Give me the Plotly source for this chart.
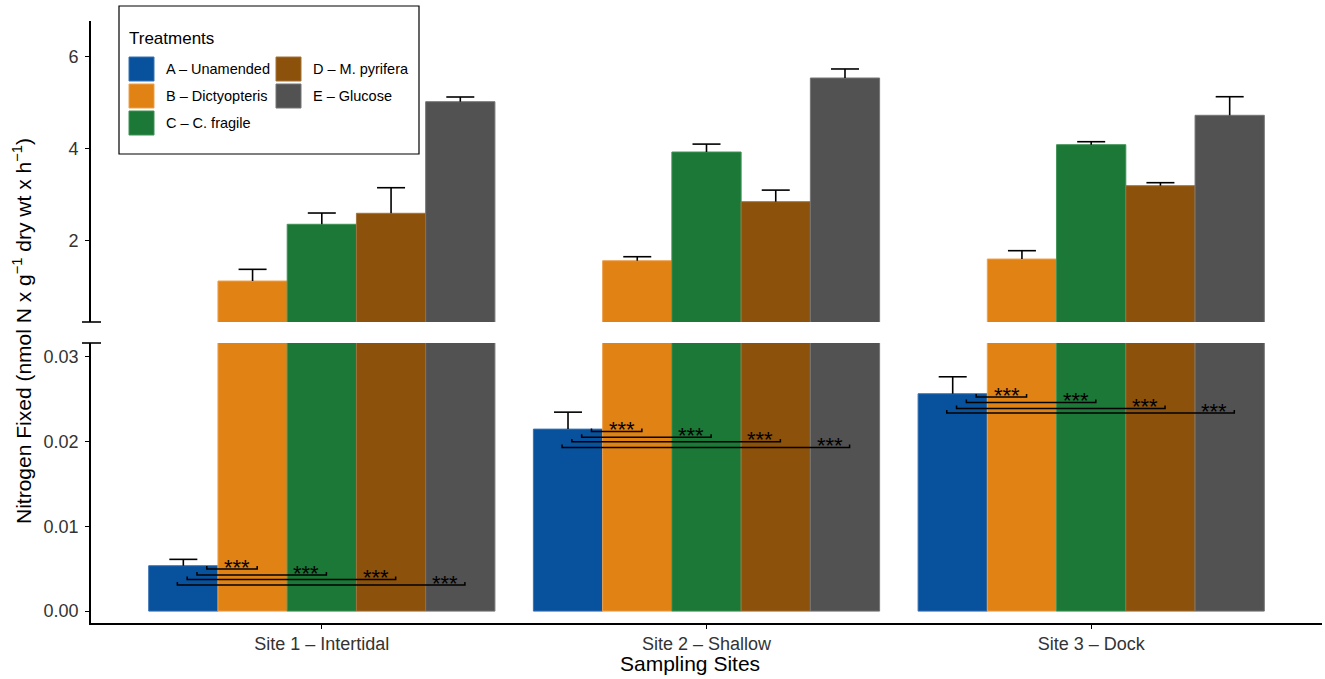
import plotly.graph_objects as go

# data
sites = ["Site 1 – Intertidal", "Site 2 – Shallow", "Site 3 – Dock"]
treatments = ["A – Unamended", "B – Dictyopteris", "C – C. fragile",
              "D – M. pyrifera", "E – Glucose"]
colors = ["#08519c", "#e08214", "#1b7837", "#8c510a", "#525252"]
edge_colors = ["#3a73b3", "#eda14f", "#3f9255", "#a2733a", "#757575"]

fixed_A = [0.00535, 0.02145, 0.02562]
fixed_B = [1.124, 1.565, 1.602]
fixed_C = [2.357, 3.928, 4.087]
fixed_D = [2.596, 2.848, 3.196]
fixed_E = [5.022, 5.537, 4.726]
se_A = [0.00075, 0.0020, 0.0020]
se_B = [0.254, 0.087, 0.181]
se_C = [0.245, 0.172, 0.065]
se_D = [0.556, 0.252, 0.065]
se_E = [0.102, 0.196, 0.404]

# significance bracket heights (A vs B, C, D, E) per site
sig_site1 = [0.00496, 0.00425, 0.00374, 0.00307]
sig_site2 = [0.02117, 0.02050, 0.01995, 0.01928]
sig_site3 = [0.02523, 0.02459, 0.02388, 0.02334]
sig_label = "***"

means = [fixed_A, fixed_B, fixed_C, fixed_D, fixed_E]
errs = [se_A, se_B, se_C, se_D, se_E]
sig_levels = [sig_site1, sig_site2, sig_site3]

site_x = list(range(len(sites)))
bar_w = 0.9 / len(treatments)
centers = [(k - 2) * bar_w for k in range(len(treatments))]

# plot-area pixel geometry (for legend and break marks)
L, R, T, B = 91, 3, 21, 56
W, H = 1325, 679
PW, PH = W - L - R, H - T - B


def px(xp):
    return (xp - L) / PW


def py(yp):
    return (H - B - yp) / PH


fig = go.Figure()

for yax in ["y", "y2"]:
    for k, name in enumerate(treatments):
        fig.add_trace(go.Bar(
            x=site_x, y=means[k], name=name, yaxis=yax, xaxis="x",
            marker=dict(color=colors[k], line=dict(color=edge_colors[k], width=1)),
            error_y=dict(type="data", symmetric=False, array=errs[k],
                         arrayminus=[0] * len(sites), width=0,
                         thickness=1.6, color="black"),
            showlegend=False, hoverinfo="skip"))
    for k in range(len(treatments)):
        fig.add_trace(go.Scatter(
            x=[s + centers[k] for s in site_x],
            y=[m + e for m, e in zip(means[k], errs[k])],
            mode="markers", yaxis=yax, xaxis="x",
            marker=dict(symbol="line-ew", size=20,
                        line=dict(color="black", width=1.6)),
            showlegend=False, hoverinfo="skip"))

# significance brackets A vs others
tip = 0.00035
annotations = []
for s, levels in zip(site_x, sig_levels):
    for j, lev in enumerate(levels, start=1):
        x0 = s + centers[0] + 0.061 - 0.0255 * (j - 1)
        x1 = s + centers[j] + 0.012
        fig.add_trace(go.Scatter(
            x=[x0, x0, x1, x1], y=[lev + tip, lev, lev, lev + tip],
            mode="lines", line=dict(color="black", width=1.5),
            xaxis="x", yaxis="y", showlegend=False, hoverinfo="skip"))
        annotations.append(dict(
            x=x1 - 0.052, y=lev, xref="x", yref="y", text=sig_label,
            showarrow=False, xanchor="center", yanchor="middle", yshift=2,
            font=dict(size=22, color="black", family="Liberation Sans")))

# axis titles
annotations.append(dict(
    x=0, y=py(331), xref="paper", yref="paper", xshift=-69,
    text="Nitrogen Fixed (nmol N x g<sup>−1</sup> dry wt x h<sup>−1</sup>)",
    textangle=-90, showarrow=False, xanchor="center", yanchor="middle",
    font=dict(size=21, color="black", family="Liberation Sans")))
annotations.append(dict(
    x=px(690), y=py(663), xref="paper", yref="paper",
    text="Sampling Sites", showarrow=False, xanchor="center", yanchor="middle",
    font=dict(size=21, color="black", family="Liberation Sans")))

# manual legend (two columns, column-major like the source)
shapes = [dict(type="rect", xref="paper", yref="paper",
               x0=px(119), x1=px(419), y0=py(154), y1=py(6),
               line=dict(color="black", width=1.2), fillcolor="white", layer="above")]
annotations.append(dict(
    x=px(127), y=py(39), xref="paper", yref="paper", text="Treatments",
    showarrow=False, xanchor="left", yanchor="middle",
    font=dict(size=17, color="black", family="Liberation Sans")))
key_cols = [129, 276]
row_tops = [57, 84, 111]
for k, name in enumerate(treatments):
    col, row = divmod(k, 3)
    kx, ky = key_cols[col], row_tops[row]
    shapes.append(dict(type="rect", xref="paper", yref="paper",
                       x0=px(kx), x1=px(kx + 25), y0=py(ky + 24), y1=py(ky),
                       fillcolor=colors[k], line=dict(color=edge_colors[k], width=1),
                       layer="above"))
    annotations.append(dict(
        x=px(kx + 35), y=py(ky + 12), xref="paper", yref="paper", text=name,
        showarrow=False, xanchor="left", yanchor="middle",
        font=dict(size=14.5, color="black", family="Liberation Sans")))

# axis break marks
for yb in [322, 343]:
    shapes.append(dict(type="line", xref="paper", yref="paper",
                       x0=px(82), x1=px(101), y0=py(yb), y1=py(yb),
                       line=dict(color="black", width=1.6)))

axis_common = dict(showline=True, linecolor="black", linewidth=1.6,
                   ticks="outside", ticklen=4, tickwidth=1.3, tickcolor="black",
                   showgrid=False, zeroline=False,
                   tickfont=dict(size=18, color="#333333", family="Liberation Sans"))

fig.update_layout(
    width=W, height=H,
    margin=dict(l=L, r=R, t=T, b=B),
    paper_bgcolor="white", plot_bgcolor="white",
    barmode="group", bargap=0.1, bargroupgap=0,
    showlegend=False,
    xaxis=dict(range=[-0.6, 2.6], tickvals=site_x, ticktext=sites,
               anchor="y", domain=[0, 1], **axis_common),
    yaxis=dict(domain=[0, py(343)], range=[-0.0014, 0.0316],
               tickvals=[0, 0.01, 0.02, 0.03], tickformat=".2f",
               anchor="x", ticklabelstandoff=3, **axis_common),
    yaxis2=dict(domain=[py(322), 1], range=[0.233, 6.776],
                tickvals=[2, 4, 6], anchor="x", ticklabelstandoff=3,
                **axis_common),
    shapes=shapes,
    annotations=annotations,
)

# the page's default body margin would shift the figure by 8 px
fig.write_html("out.html", config={"displayModeBar": False},
               post_script="document.body.style.margin='0';")
